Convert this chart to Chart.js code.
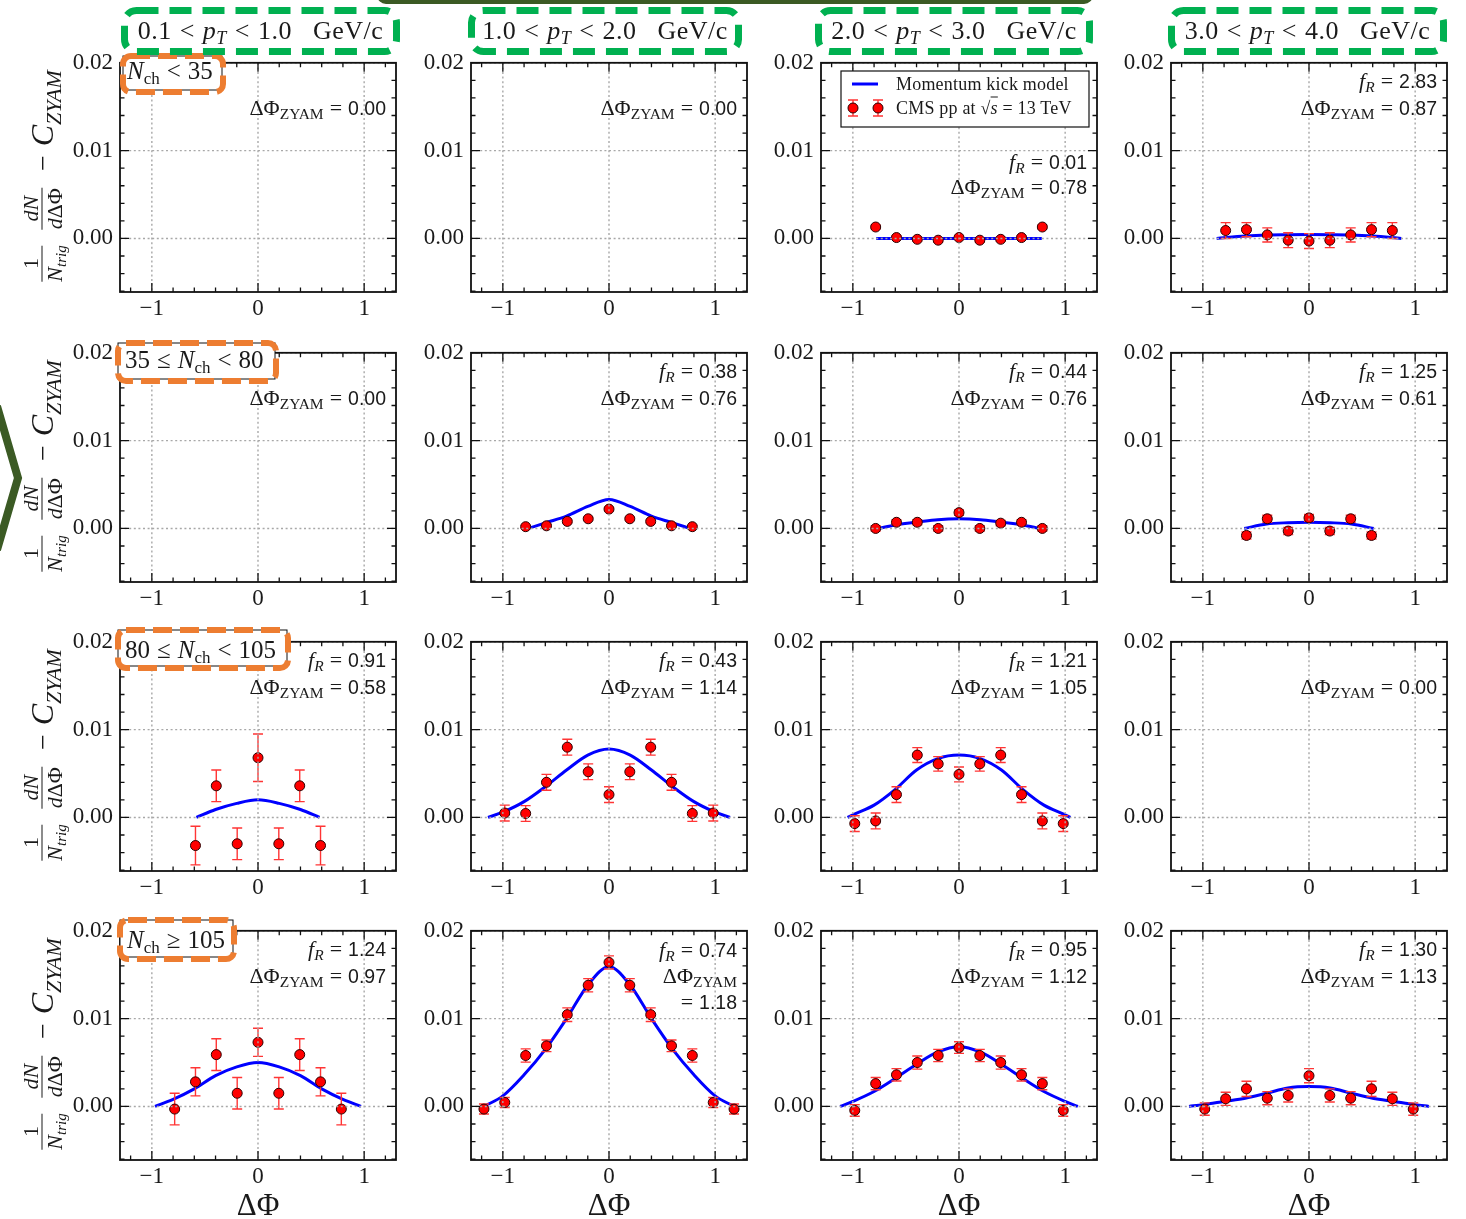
<!DOCTYPE html>
<html>
<head>
<meta charset="utf-8">
<title>Near-side ridge yield vs momentum kick model</title>
<script src="https://cdn.jsdelivr.net/npm/chart.js@4.4.1/dist/chart.umd.min.js"></script>
<style>
  html, body { margin: 0; padding: 0; background: #fff; }
  #page { position: relative; width: 1466px; height: 1219px; overflow: hidden; background: #fff; }
  canvas.panel { position: absolute; }
  .t { position: absolute; white-space: nowrap; font-family: 'Liberation Serif', 'DejaVu Serif', serif; color: #1a1a1a; }
  .t sub { line-height: 0; }
  .rel { display: inline-block; margin: 0 8px; }
  .ann { font-size: 22px; line-height: 26px; height: 26px; text-align: right; }
  .ann sub { font-size: 15.5px; vertical-align: -4px; }
  .ann .eq { margin: 0 6px; }
  .ann .sans { font-family: 'Liberation Sans', Arial, sans-serif; font-size: 19.5px; }
  .mi { font-style: italic; }
  .hdr { font-size: 26px; letter-spacing: 0.5px; transform: translate(-50%, -50%); }
  .hdr sub { font-size: 18px; vertical-align: -5px; }
  .nch { font-size: 25px; transform: translateY(-50%); }
  .nch sub { font-size: 17px; vertical-align: -5px; }
  .nch .rel { margin: 0 7px; }
  .xt { font-size: 31px; transform: translate(-50%, -50%); }
  .leg { font-size: 18px; letter-spacing: 0.2px; transform: translateY(-50%); }
  .ytitle { display: flex; align-items: center; transform: translate(-50%, -50%) rotate(-90deg); }
  .frac { display: inline-flex; flex-direction: column; align-items: stretch; text-align: center; margin: 0 8px; font-size: 22px; line-height: 23px; }
  .frac .nu { border-bottom: 1.4px solid #1a1a1a; padding: 0 2px; }
  .frac sub { font-size: 15px; vertical-align: -4px; }
  .ytitle .op { font-size: 28px; margin: 0 9px; }
  .ytitle .cz { font-size: 32px; font-style: italic; }
  .ytitle .cz sub { font-size: 22px; vertical-align: -8px; }
</style>
</head>
<body>
<div id="page"></div>
<script>
// ---------- axis ticks ----------
const xMajor = [-1, 0, 1];
const xMinor = [-1.2, -0.8, -0.6, -0.4, -0.2, 0.2, 0.4, 0.6, 0.8, 1.2];
const yMajor = [0, 0.01, 0.02];
const yMinor = [-0.006, -0.004, -0.002, 0.002, 0.004, 0.006, 0.008, 0.012, 0.014, 0.016, 0.018];

// ---------- bin labels ----------
const ptEdges = ['0.1', '1.0', '2.0', '3.0', '4.0'];
const nchLabels = [
  '<i>N</i><sub>ch</sub><span class="rel">&lt;</span>35',
  '35<span class="rel">&le;</span><i>N</i><sub>ch</sub><span class="rel">&lt;</span>80',
  '80<span class="rel">&le;</span><i>N</i><sub>ch</sub><span class="rel">&lt;</span>105',
  '<i>N</i><sub>ch</sub><span class="rel">&ge;</span>105'
];

// fit parameters per [Nch row][pT column]; null = not quoted
const fR = [
  [null, null, 0.01, 2.83],
  [null, 0.38, 0.44, 1.25],
  [0.91, 0.43, 1.21, null],
  [1.24, 0.74, 0.95, 1.30]
];
const dPhiZyam = [
  [0.00, 0.00, 0.78, 0.87],
  [0.00, 0.76, 0.76, 0.61],
  [0.58, 1.14, 1.05, 0.00],
  [0.97, 1.18, 1.12, 1.13]
];

// ---------- ΔΦ bin centres (steps of π/16) ----------
const phi7  = [-0.589, -0.393, -0.196, 0, 0.196, 0.393, 0.589];
const phi9  = [-0.785, -0.589, -0.393, -0.196, 0, 0.196, 0.393, 0.589, 0.785];
const phi11 = [-0.982, -0.785, -0.589, -0.393, -0.196, 0, 0.196, 0.393, 0.589, 0.785, 0.982];
const phi13 = [-1.178, -0.982, -0.785, -0.589, -0.393, -0.196, 0, 0.196, 0.393, 0.589, 0.785, 0.982, 1.178];

// ---------- CMS pp 13 TeV associated yields and errors ----------
const cms_r1c3 = [0.0013, 0.0001, -0.0001, -0.0002, 0.0001, -0.0002, -0.0001, 0.0001, 0.0013];
const err_r1c3 = [0.0002, 0.0002, 0.0002, 0.0002, 0.0002, 0.0002, 0.0002, 0.0002, 0.0002];
const cms_r1c4 = [0.0009, 0.0010, 0.0004, -0.0002, -0.0003, -0.0002, 0.0004, 0.0010, 0.0009];
const err_r1c4 = [0.0009, 0.0008, 0.0008, 0.00085, 0.00085, 0.00085, 0.0008, 0.0008, 0.0009];
const cms_r2c2 = [0.0002, 0.0003, 0.0008, 0.0011, 0.0022, 0.0011, 0.0008, 0.0003, 0.0002];
const err_r2c2 = [0.00015, 0.00015, 0.00015, 0.00015, 0.00015, 0.00015, 0.00015, 0.00015, 0.00015];
const cms_r2c3 = [0.0000, 0.0007, 0.0007, 0.0000, 0.0018, 0.0000, 0.0006, 0.0007, 0.0000];
const err_r2c3 = [0.0003, 0.0003, 0.0003, 0.0003, 0.0003, 0.0003, 0.0003, 0.0003, 0.0003];
const cms_r2c4 = [-0.0008, 0.0011, -0.0003, 0.0012, -0.0003, 0.0011, -0.0008];
const err_r2c4 = [0.0004, 0.0004, 0.0004, 0.0004, 0.0004, 0.0004, 0.0004];
const cms_r3c1 = [-0.0032, 0.0036, -0.0030, 0.0068, -0.0030, 0.0036, -0.0032];
const err_r3c1 = [0.0022, 0.0018, 0.0018, 0.0027, 0.0018, 0.0018, 0.0022];
const cms_r3c2 = [0.0005, 0.00045, 0.0040, 0.0080, 0.0052, 0.0026, 0.0052, 0.0080, 0.0040, 0.00045, 0.0005];
const err_r3c2 = [0.0009, 0.0009, 0.0009, 0.0009, 0.0009, 0.0009, 0.0009, 0.0009, 0.0009, 0.0009, 0.0009];
const cms_r3c3 = [-0.0007, -0.0004, 0.0026, 0.0071, 0.0061, 0.0049, 0.0061, 0.0071, 0.0026, -0.0004, -0.0007];
const err_r3c3 = [0.0009, 0.0009, 0.0009, 0.00085, 0.00083, 0.00085, 0.00083, 0.00085, 0.0009, 0.0009, 0.0009];
const cms_r4c1 = [-0.0003, 0.0028, 0.0059, 0.0015, 0.0073, 0.0015, 0.0059, 0.0028, -0.0003];
const err_r4c1 = [0.0018, 0.0016, 0.0018, 0.0018, 0.0016, 0.0018, 0.0018, 0.0016, 0.0018];
const cms_r4c2 = [-0.0003, 0.00045, 0.0058, 0.0069, 0.01045, 0.0138, 0.0164, 0.0138, 0.01045, 0.0069, 0.0058, 0.00045, -0.0003];
const err_r4c2 = [0.00057, 0.00057, 0.00075, 0.00066, 0.00077, 0.00075, 0.00075, 0.00075, 0.00077, 0.00066, 0.00075, 0.00057, 0.00057];
const cms_r4c3 = [-0.00045, 0.0026, 0.0036, 0.0050, 0.0058, 0.0067, 0.0058, 0.0050, 0.0036, 0.0026, -0.00045];
const err_r4c3 = [0.00066, 0.0007, 0.0007, 0.00075, 0.0007, 0.00066, 0.0007, 0.00075, 0.0007, 0.0007, 0.00066];
const cms_r4c4 = [-0.0003, 0.00087, 0.0020, 0.00094, 0.00125, 0.0035, 0.00125, 0.00094, 0.0020, 0.00087, -0.0003];
const err_r4c4 = [0.0007, 0.00075, 0.00087, 0.00075, 0.00075, 0.0008, 0.00075, 0.00075, 0.00087, 0.00075, 0.0007];

// ---------- momentum kick model (inner nodes; curve closes to 0 at ±ΔΦ_ZYAM) ----------
const kickPhi5  = [-0.4, -0.2, 0, 0.2, 0.4];
const kickPhi7  = [-0.6, -0.4, -0.2, 0, 0.2, 0.4, 0.6];
const kickPhi9  = [-0.8, -0.6, -0.4, -0.2, 0, 0.2, 0.4, 0.6, 0.8];
const kickPhi11 = [-1.0, -0.8, -0.6, -0.4, -0.2, 0, 0.2, 0.4, 0.6, 0.8, 1.0];
const kick_r1c3 = [0, 0, 0, 0, 0, 0, 0];
const kick_r1c4 = [0.00028, 0.0004, 0.00043, 0.00044, 0.00043, 0.0004, 0.00028];
const kick_r2c2 = [0.00064, 0.0014, 0.0025, 0.0033, 0.0025, 0.0014, 0.00064];
const kick_r2c3 = [0.0004, 0.0007, 0.001, 0.0011, 0.001, 0.0007, 0.0004];
const kick_r2c4 = [0.0005, 0.00065, 0.0007, 0.00065, 0.0005];
const kick_r3c1 = [0.0009, 0.0016, 0.0020, 0.0016, 0.0009];
const kick_r3c2 = [0.0006, 0.0018, 0.0035, 0.0054, 0.0071, 0.0078, 0.0071, 0.0054, 0.0035, 0.0018, 0.0006];
const kick_r3c3 = [0.0003, 0.0014, 0.0032, 0.0054, 0.0067, 0.0071, 0.0067, 0.0054, 0.0032, 0.0014, 0.0003];
const kick_r4c1 = [0.0008, 0.0020, 0.0035, 0.0045, 0.0050, 0.0045, 0.0035, 0.0020, 0.0008];
const kick_r4c2 = [0.0012, 0.0036, 0.0065, 0.0100, 0.0138, 0.0159, 0.0138, 0.0100, 0.0065, 0.0036, 0.0012];
const kick_r4c3 = [0.00057, 0.0017, 0.0032, 0.0048, 0.0062, 0.0068, 0.0062, 0.0048, 0.0032, 0.0017, 0.00057];
const kick_r4c4 = [0.0002, 0.00057, 0.00094, 0.0015, 0.0021, 0.00226, 0.0021, 0.0015, 0.00094, 0.00057, 0.0002];

// panel table: row, column, data series
const panelData = [
  { r: 0, c: 2, phi: phi9,  y: cms_r1c3, e: err_r1c3, kx: kickPhi7,  ky: kick_r1c3 },
  { r: 0, c: 3, phi: phi9,  y: cms_r1c4, e: err_r1c4, kx: kickPhi7,  ky: kick_r1c4 },
  { r: 1, c: 1, phi: phi9,  y: cms_r2c2, e: err_r2c2, kx: kickPhi7,  ky: kick_r2c2 },
  { r: 1, c: 2, phi: phi9,  y: cms_r2c3, e: err_r2c3, kx: kickPhi7,  ky: kick_r2c3 },
  { r: 1, c: 3, phi: phi7,  y: cms_r2c4, e: err_r2c4, kx: kickPhi5,  ky: kick_r2c4 },
  { r: 2, c: 0, phi: phi7,  y: cms_r3c1, e: err_r3c1, kx: kickPhi5,  ky: kick_r3c1 },
  { r: 2, c: 1, phi: phi11, y: cms_r3c2, e: err_r3c2, kx: kickPhi11, ky: kick_r3c2 },
  { r: 2, c: 2, phi: phi11, y: cms_r3c3, e: err_r3c3, kx: kickPhi11, ky: kick_r3c3 },
  { r: 3, c: 0, phi: phi9,  y: cms_r4c1, e: err_r4c1, kx: kickPhi9,  ky: kick_r4c1 },
  { r: 3, c: 1, phi: phi13, y: cms_r4c2, e: err_r4c2, kx: kickPhi11, ky: kick_r4c2 },
  { r: 3, c: 2, phi: phi11, y: cms_r4c3, e: err_r4c3, kx: kickPhi11, ky: kick_r4c3 },
  { r: 3, c: 3, phi: phi11, y: cms_r4c4, e: err_r4c4, kx: kickPhi11, ky: kick_r4c4 }
];

// ---------- layout ----------
const colLeft = [120, 471, 821, 1171];
const rowTop = [62, 352, 641, 930];
const plotW = 276, plotH = 230;
const padL = 90, padT = 20, padR = 20, padB = 45;
const SERIF = "'Liberation Serif', 'DejaVu Serif', serif";
const INK = '#1a1a1a';
const page = document.getElementById('page');

function fmtX(v) { return v < 0 ? '\u2212' + Math.abs(v) : String(v); }

// error bars under the markers, then dotted grid, inward ticks and frame on top
const framePlugin = {
  id: 'frame',
  beforeDatasetDraw(chart, args) {
    const ds = chart.data.datasets[args.index];
    if (!ds || !ds.errors) return;
    const xs = chart.scales.x, ys = chart.scales.y, ctx = chart.ctx;
    ctx.save();
    ctx.strokeStyle = '#ff3535';
    ctx.lineWidth = 1.4;
    ctx.beginPath();
    ds.data.forEach((p, i) => {
      const e = ds.errors[i];
      const px = xs.getPixelForValue(p.x);
      const lo = ys.getPixelForValue(p.y - e), hi = ys.getPixelForValue(p.y + e);
      ctx.moveTo(px, lo); ctx.lineTo(px, hi);
      ctx.moveTo(px - 5, lo); ctx.lineTo(px + 5, lo);
      ctx.moveTo(px - 5, hi); ctx.lineTo(px + 5, hi);
    });
    ctx.stroke();
    ctx.restore();
  },
  afterDatasetsDraw(chart) {
    const { left, right, top, bottom } = chart.chartArea;
    const xs = chart.scales.x, ys = chart.scales.y, ctx = chart.ctx;
    ctx.save();
    ctx.strokeStyle = '#a8a8a8';
    ctx.lineWidth = 1.4;
    ctx.setLineDash([2, 2.6]);
    ctx.beginPath();
    xMajor.forEach(v => { const p = xs.getPixelForValue(v); ctx.moveTo(p, top); ctx.lineTo(p, bottom); });
    yMajor.forEach(v => { const p = ys.getPixelForValue(v); ctx.moveTo(left, p); ctx.lineTo(right, p); });
    ctx.stroke();
    ctx.setLineDash([]);
    ctx.strokeStyle = '#111';
    ctx.lineWidth = 1.3;
    ctx.beginPath();
    const xt = (vals, len) => vals.forEach(v => {
      const p = xs.getPixelForValue(v);
      ctx.moveTo(p, bottom); ctx.lineTo(p, bottom - len);
      ctx.moveTo(p, top); ctx.lineTo(p, top + len);
    });
    const yt = (vals, len) => vals.forEach(v => {
      const p = ys.getPixelForValue(v);
      ctx.moveTo(left, p); ctx.lineTo(left + len, p);
      ctx.moveTo(right, p); ctx.lineTo(right - len, p);
    });
    xt(xMajor, 9); xt(xMinor, 4.5); yt(yMajor, 9); yt(yMinor, 4.5);
    ctx.stroke();
    ctx.lineWidth = 1.8;
    ctx.strokeRect(left, top, right - left, bottom - top);
    ctx.restore();
  }
};

function makePanel(r, c, d) {
  const cv = document.createElement('canvas');
  cv.className = 'panel';
  cv.width = padL + plotW + padR;
  cv.height = padT + plotH + padB;
  cv.style.left = (colLeft[c] - padL) + 'px';
  cv.style.top = (rowTop[r] - padT) + 'px';
  page.appendChild(cv);

  const datasets = [];
  if (d) {
    const z = dPhiZyam[r][c];
    datasets.push({
      label: 'CMS pp at √s = 13 TeV',
      data: d.phi.map((x, i) => ({ x, y: d.y[i] })),
      errors: d.e,
      showLine: false,
      pointRadius: 5,
      pointBackgroundColor: '#ff0000',
      pointBorderColor: '#2a0000',
      pointBorderWidth: 1
    });
    const kx = [-z].concat(d.kx, [z]);
    const ky = [0].concat(d.ky, [0]);
    datasets.push({
      label: 'Momentum kick model',
      data: kx.map((x, i) => ({ x, y: ky[i] })),
      showLine: true,
      pointRadius: 0,
      borderColor: '#0000ff',
      borderWidth: 3,
      cubicInterpolationMode: 'monotone',
      fill: false
    });
  }

  new Chart(cv, {
    type: 'scatter',
    data: { datasets },
    plugins: [framePlugin],
    options: {
      responsive: false,
      animation: false,
      devicePixelRatio: 1,
      events: [],
      layout: { padding: { left: 0, top: padT, right: padR, bottom: 0 } },
      plugins: { legend: { display: false }, tooltip: { enabled: false } },
      scales: {
        x: {
          type: 'linear', min: -1.3, max: 1.3,
          grid: { display: false, drawTicks: false },
          border: { display: false },
          afterBuildTicks: s => { s.ticks = xMajor.map(v => ({ value: v })); },
          afterFit: s => { s.height = padB; },
          ticks: { autoSkip: false, maxRotation: 0, padding: 3, color: INK,
                   font: { family: SERIF, size: 23 }, callback: v => fmtX(v) }
        },
        y: {
          type: 'linear', min: -0.0061, max: 0.02,
          grid: { display: false, drawTicks: false },
          border: { display: false },
          afterBuildTicks: s => { s.ticks = yMajor.map(v => ({ value: v })); },
          afterFit: s => { s.width = padL; },
          ticks: { autoSkip: false, padding: 7, color: INK,
                   font: { family: SERIF, size: 23 }, callback: v => v.toFixed(2) }
        }
      }
    }
  });
}

for (let r = 0; r < 4; r++) {
  for (let c = 0; c < 4; c++) {
    const d = panelData.find(p => p.r === r && p.c === c);
    makePanel(r, c, d);
  }
}

// ---------- decorations: dashed highlight boxes, legend frame ----------
const greenBoxes = [[121, 7, 400, 55], [468, 7, 742, 55], [815, 7, 1093, 55], [1168, 7, 1447, 55]];
const orangeBoxes = [[120, 53, 226, 95], [115, 340, 279, 384], [115, 627, 291, 671], [117, 917, 237, 962]];
let svg = '<svg width="1466" height="1219" style="position:absolute;left:0;top:0">';
svg += '<rect x="377" y="-30" width="716" height="34" rx="9" fill="#3b5a24"/>';
svg += '<polyline points="-3,406 18,478 -3,550" fill="none" stroke="#3b5a24" stroke-width="8" stroke-linejoin="miter"/>';
orangeBoxes.forEach(([x0, y0, x1, y1]) => {
  svg += `<rect x="${x0 + 3}" y="${y0 + 3}" width="${x1 - x0 - 7}" height="${y1 - y0 - 8}" fill="#fff" stroke="#111" stroke-width="1"/>`;
  svg += `<rect x="${x0 + 3}" y="${y0 + 3}" width="${x1 - x0 - 6}" height="${y1 - y0 - 6}" rx="8" fill="none" stroke="#ed7d31" stroke-width="6" stroke-dasharray="19 8"/>`;
});
greenBoxes.forEach(([x0, y0, x1, y1]) => {
  svg += `<rect x="${x0 + 3.5}" y="${y0 + 3.5}" width="${x1 - x0 - 7}" height="${y1 - y0 - 7}" rx="12" fill="none" stroke="#00b050" stroke-width="7" stroke-dasharray="22 11"/>`;
});
// legend box with its two keys
svg += '<rect x="841" y="71" width="248" height="56" fill="#fff" stroke="#111" stroke-width="1.2"/>';
svg += '<line x1="852" y1="84" x2="878" y2="84" stroke="#0000ff" stroke-width="3"/>';
[853, 878].forEach(x => {
  svg += `<path d="M${x},100 V116 M${x - 5},100 H${x + 5} M${x - 5},116 H${x + 5}" stroke="#ff3535" stroke-width="1.4" fill="none"/>`;
  svg += `<circle cx="${x}" cy="108" r="5" fill="#ff0000" stroke="#2a0000" stroke-width="1"/>`;
});
svg += '</svg>';
page.insertAdjacentHTML('beforeend', svg);

// ---------- text ----------
function addText(cls, html, style) {
  const el = document.createElement('div');
  el.className = 't ' + cls;
  el.innerHTML = html;
  Object.assign(el.style, style);
  page.appendChild(el);
  return el;
}

// column headers (pT bins)
greenBoxes.forEach(([x0, y0, x1, y1], c) => {
  addText('hdr', `${ptEdges[c]}<span class="rel">&lt;</span><i>p</i><sub><i>T</i></sub><span class="rel">&lt;</span>${ptEdges[c + 1]}&nbsp;&nbsp;&nbsp;GeV/c`,
    { left: ((x0 + x1) / 2) + 'px', top: '31px' });
});

// row labels (multiplicity bins)
const nchText = [[127, 71], [125, 360], [125, 650], [127, 940]];
nchLabels.forEach((h, r) => addText('nch', h, { left: nchText[r][0] + 'px', top: nchText[r][1] + 'px' }));

// fR and ΔΦ_ZYAM annotations
const fRHtml = v => `<span class="mi">f</span><sub class="mi">R</sub><span class="eq">=</span><span class="sans">${v.toFixed(2)}</span>`;
const zyamHtml = v => `ΔΦ<sub>ZYAM</sub><span class="eq">=</span><span class="sans">${v.toFixed(2)}</span>`;
for (let r = 0; r < 4; r++) {
  for (let c = 0; c < 4; c++) {
    const right = (1466 - (colLeft[c] + plotW - 10)) + 'px';
    const T = rowTop[r];
    const line = (html, cy) => addText('ann', html, { right, top: (T + cy - 13) + 'px' });
    if (r === 0 && c === 2) {
      line(fRHtml(fR[r][c]), 100);
      line(zyamHtml(dPhiZyam[r][c]), 125);
    } else if (r === 3 && c === 1) {
      line(fRHtml(fR[r][c]), 20);
      line('ΔΦ<sub>ZYAM</sub>', 46);
      line(`<span class="eq">=</span><span class="sans">${dPhiZyam[r][c].toFixed(2)}</span>`, 72);
    } else {
      if (fR[r][c] !== null) line(fRHtml(fR[r][c]), 19);
      line(zyamHtml(dPhiZyam[r][c]), 46);
    }
  }
}

// legend entries
addText('leg', 'Momentum kick model', { left: '896px', top: '84px' });
addText('leg', 'CMS pp at <span>&radic;<span style="text-decoration:overline"><i>s</i></span></span> = 13 TeV', { left: '896px', top: '108px' });

// y-axis titles
const yTitle = '<span class="frac"><span class="nu">1</span><span class="de"><i>N</i><sub><i>trig</i></sub></span></span>' +
  '<span class="frac"><span class="nu"><i>dN</i></span><span class="de"><i>d</i>ΔΦ</span></span>' +
  '<span class="op">&minus;</span><span class="cz">C<sub>ZYAM</sub></span>';
rowTop.forEach(T => addText('ytitle', yTitle, { left: '42px', top: (T + 118) + 'px' }));

// x-axis titles
colLeft.forEach(L => addText('xt', 'ΔΦ', { left: (L + plotW / 2) + 'px', top: '1205px' }));
</script>
</body>
</html>
